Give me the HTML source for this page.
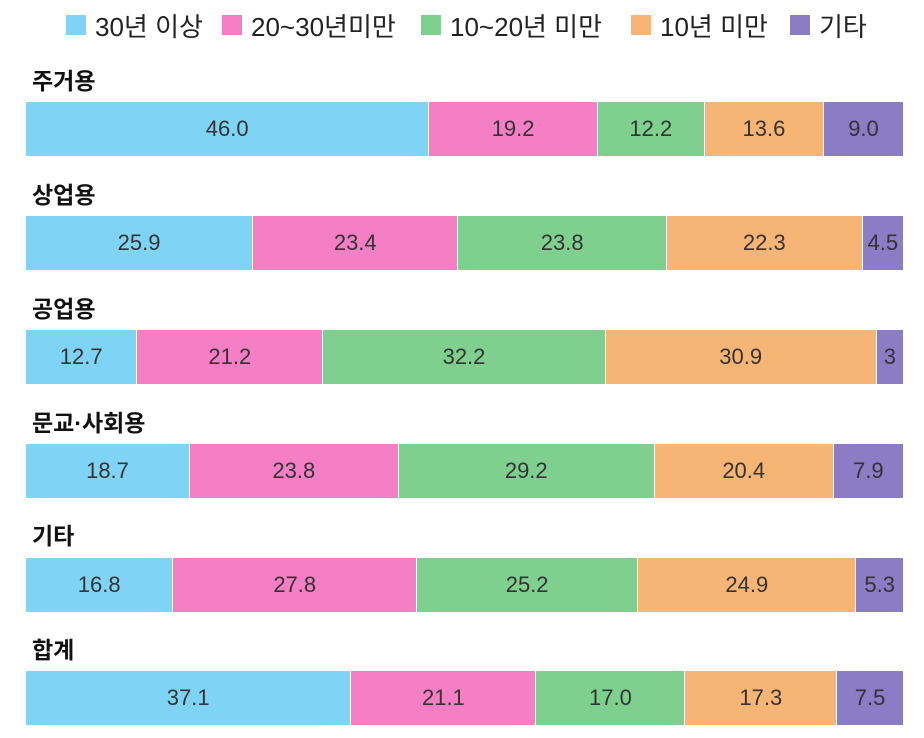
<!DOCTYPE html>
<html><head><meta charset="utf-8"><style>
body{margin:0;width:924px;height:738px;background:#fff;font-family:"Liberation Sans","Noto Sans CJK KR",sans-serif;position:relative;overflow:hidden}
.it{position:absolute;top:8px;display:flex;align-items:center;font-size:26px;color:#222;white-space:nowrap;height:34px}
.sq{display:inline-block;width:20px;height:20px;margin-right:9px}
.t{position:absolute;left:32px;font-size:23px;font-weight:bold;color:#111}
.bar{position:absolute;left:26px;width:877px;height:54px;display:flex}
.bar div{height:100%;display:flex;align-items:center;justify-content:center;font-size:22px;color:#333;border-right:1px solid #fff;box-sizing:border-box}
.a{background:#7fd4f5}.b{background:#f57fc5}.c{background:#7fd08f}.d{background:#f7b575}.e{background:#8b7cc6;border-right:none!important}
</style></head><body>
<div class="it" style="left:66px"><span class="sq a"></span>30년 이상</div>
<div class="it" style="left:222px"><span class="sq b"></span>20~30년미만</div>
<div class="it" style="left:421px"><span class="sq c"></span>10~20년 미만</div>
<div class="it" style="left:631px"><span class="sq d"></span>10년 미만</div>
<div class="it" style="left:790px"><span class="sq e"></span>기타</div>
<div class="t" style="top:62px">주거용</div>
<div class="bar" style="top:102px"><div class="a" style="width:46%">46.0</div><div class="b" style="width:19.2%">19.2</div><div class="c" style="width:12.2%">12.2</div><div class="d" style="width:13.6%">13.6</div><div class="e" style="width:9%">9.0</div></div>
<div class="t" style="top:176px">상업용</div>
<div class="bar" style="top:216px"><div class="a" style="width:25.9%">25.9</div><div class="b" style="width:23.4%">23.4</div><div class="c" style="width:23.8%">23.8</div><div class="d" style="width:22.3%">22.3</div><div class="e" style="width:4.6%">4.5</div></div>
<div class="t" style="top:290px">공업용</div>
<div class="bar" style="top:330px"><div class="a" style="width:12.7%">12.7</div><div class="b" style="width:21.2%">21.2</div><div class="c" style="width:32.2%">32.2</div><div class="d" style="width:30.9%">30.9</div><div class="e" style="width:3%">3</div></div>
<div class="t" style="top:404px">문교·사회용</div>
<div class="bar" style="top:444px"><div class="a" style="width:18.7%">18.7</div><div class="b" style="width:23.8%">23.8</div><div class="c" style="width:29.2%">29.2</div><div class="d" style="width:20.4%">20.4</div><div class="e" style="width:7.9%">7.9</div></div>
<div class="t" style="top:517px">기타</div>
<div class="bar" style="top:558px"><div class="a" style="width:16.8%">16.8</div><div class="b" style="width:27.8%">27.8</div><div class="c" style="width:25.2%">25.2</div><div class="d" style="width:24.9%">24.9</div><div class="e" style="width:5.3%">5.3</div></div>
<div class="t" style="top:631px">합계</div>
<div class="bar" style="top:671px"><div class="a" style="width:37.1%">37.1</div><div class="b" style="width:21.1%">21.1</div><div class="c" style="width:17%">17.0</div><div class="d" style="width:17.3%">17.3</div><div class="e" style="width:7.5%">7.5</div></div>
</body></html>
